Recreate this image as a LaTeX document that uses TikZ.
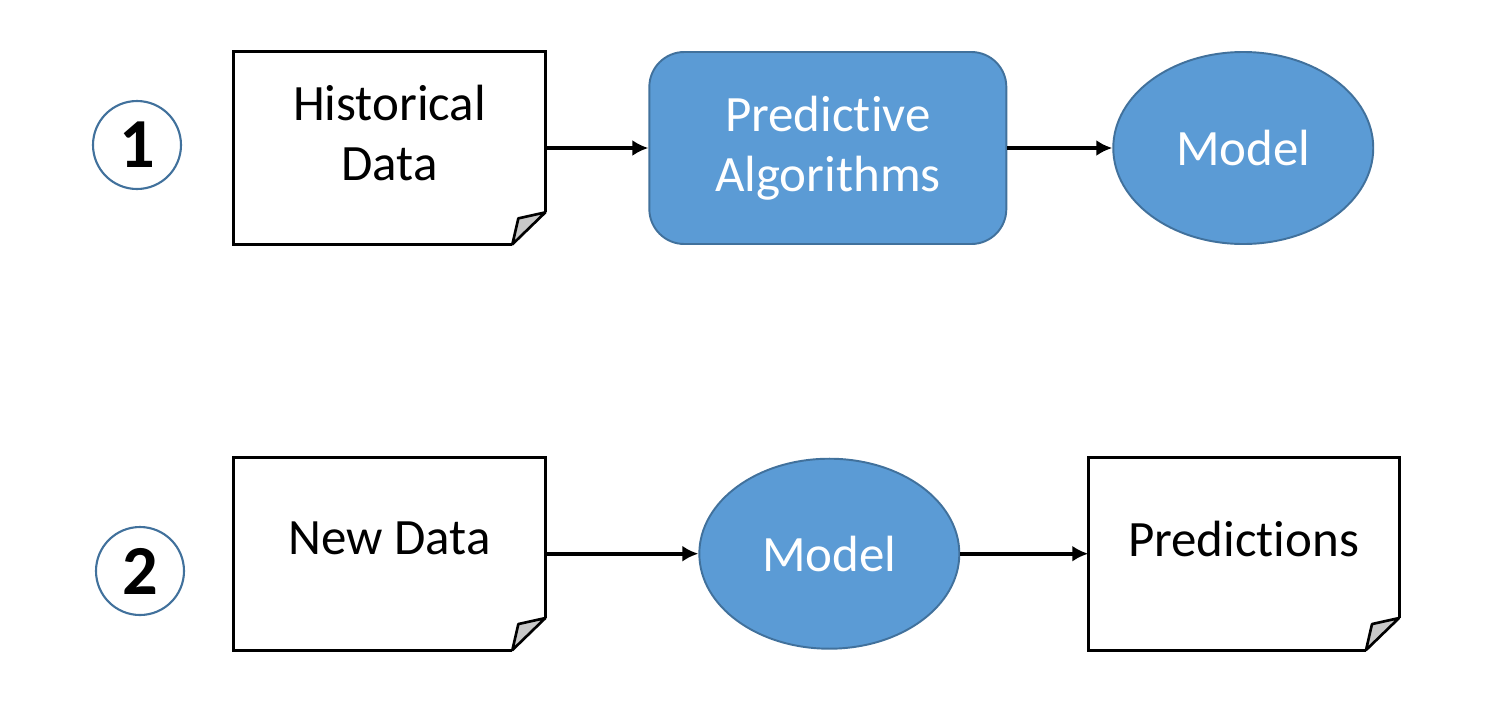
\documentclass[tikz,border=0pt]{standalone}
\usepackage{fontspec}
\setmainfont{Carlito}[Ligatures={NoCommon, NoRare, NoContextual}]
\usetikzlibrary{positioning, arrows.meta, shapes.geometric}
\definecolor{ShapeBlue}{RGB}{91, 155, 213}
\definecolor{EdgeBlue}{RGB}{65, 113, 156}
\definecolor{FoldGray}{RGB}{200, 200, 200}

\begin{document}
\begin{tikzpicture}[
        doc/.style={
            rectangle,
            minimum width=6.22cm,
            minimum height=3.84cm,
            inner sep=0pt
        },
        doclabel/.style={
            align=center,
            yshift=0.3cm,
            font=\fontsize{29}{34}\selectfont
        },
        docline/.style={line width=1.7pt, black, line join=miter},
        fold/.style={line width=1.5pt, black, fill=FoldGray, line join=round},
        algo/.style={
            rectangle,
            rounded corners=0.7cm,
            draw=EdgeBlue,
            line width=1.1pt,
            fill=ShapeBlue,
            text=white,
            align=center,
            minimum width=7.14cm,
            minimum height=3.84cm,
            font=\fontsize{29}{34}\selectfont
        },
        model/.style={
            ellipse,
            draw=EdgeBlue,
            line width=1.1pt,
            fill=ShapeBlue,
            text=white,
            inner sep=0pt,
            minimum width=5.2cm,
            minimum height=3.84cm,
            font=\fontsize{29}{34}\selectfont
        },
        step num/.style={
            circle,
            draw=EdgeBlue,
            line width=1.2pt,
            minimum size=1.76cm,
            inner sep=0pt,
            font=\fontsize{40}{40}\selectfont\bfseries
        },
        arrow/.style={-{Latex[length=3.2mm, width=3.2mm]}, line width=2.2pt, black}
    ]
    \useasboundingbox (0,0) rectangle (29.86,-14.34);

    % Fila superior
    \node[step num] (one) at (2.74,-2.90) {1};
    \node[doc, label={[doclabel]center:Historical\\Data}] (hist) at (7.79,-2.96) {};
    \node[algo, right=2.06cm of hist] (pred algo) {Predictive\\Algorithms};
    \node[model, right=2.1cm of pred algo] (model a) {Model};

    % Fila inferior
    \node[step num] (two) at (2.80,-11.42) {2};
    \node[doc, below=4.26cm of hist, label={[doclabel]center:New Data}] (new data) {};
    \node[model, right=3.06cm of new data, minimum height=3.8cm] (model b) {Model};
    \node[doc, right=2.56cm of model b, minimum width=6.2cm, label={[doclabel]center:Predictions}] (preds) {};

    % Hojas con esquina doblada
    \foreach \d in {hist, new data, preds} {
        \draw[docline] ([xshift=-0.66cm]\d.south east) -- (\d.south west) -- (\d.north west)
            -- (\d.north east) -- ([yshift=0.64cm]\d.south east);
        \filldraw[fold] ([xshift=-0.66cm]\d.south east) -- ([yshift=0.64cm]\d.south east)
            -- ([xshift=-0.54cm, yshift=0.52cm]\d.south east) -- cycle;
    }

    % Flechas
    \draw[arrow] (hist) -- (pred algo);
    \draw[arrow] (pred algo) -- (model a);
    \draw[arrow] (new data) -- (model b);
    \draw[arrow] (model b) -- (preds);

\end{tikzpicture}
\end{document}
